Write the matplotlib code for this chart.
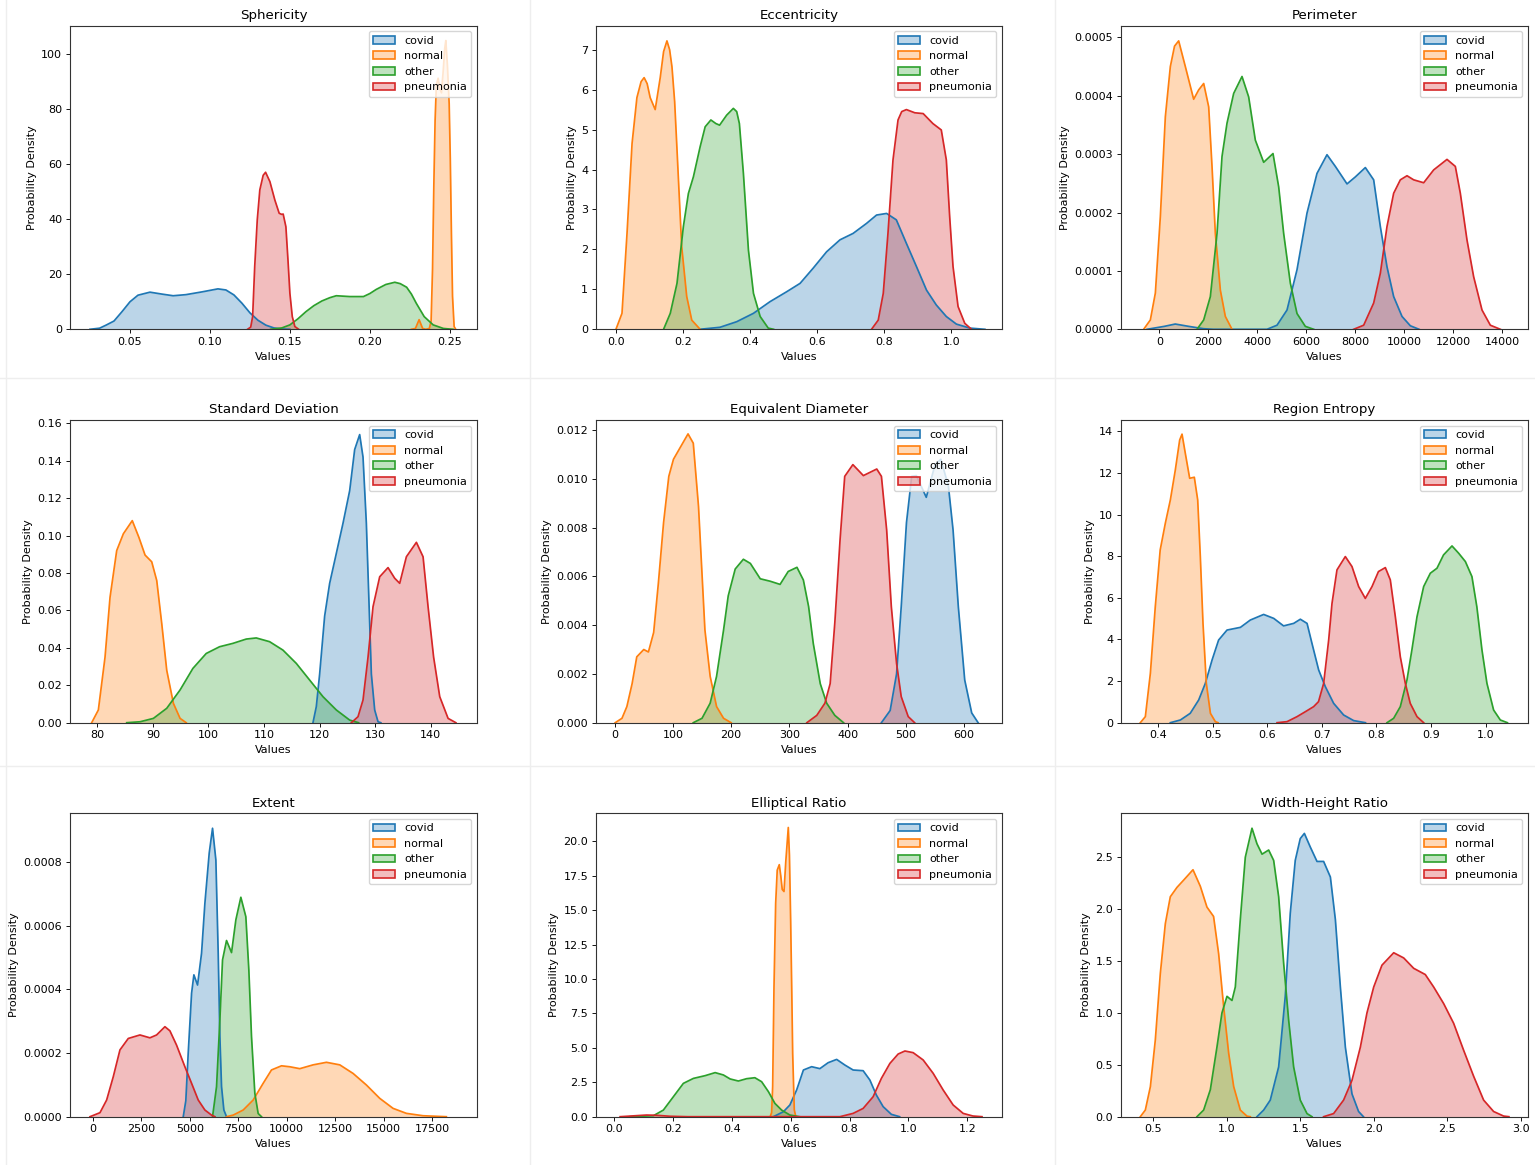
import matplotlib
matplotlib.use("Agg")
import matplotlib.pyplot as plt
from matplotlib.patches import Patch
from matplotlib.lines import Line2D
from matplotlib.ticker import FormatStrFormatter, MultipleLocator

CATEGORIES = ["covid", "normal", "other", "pneumonia"]
COLORS = ["#1f77b4", "#ff7f0e", "#2ca02c", "#d62728"]
TITLES = ["Sphericity", "Eccentricity", "Perimeter",
          "Standard Deviation", "Equivalent Diameter", "Region Entropy",
          "Extent", "Elliptical Ratio", "Width-Height Ratio"]

# ---------------- Sphericity ----------------
SPH_COVID_X = [0.025, 0.031, 0.035, 0.040, 0.045, 0.050, 0.055, 0.0625, 0.070, 0.077, 0.085, 0.095,
               0.105, 0.110, 0.115, 0.120, 0.125, 0.130, 0.135, 0.140, 0.145, 0.150]
SPH_COVID_Y = [0, 0.4, 1.5, 3.0, 6.4, 10.0, 12.4, 13.5, 12.8, 12.2, 12.6, 13.6,
               14.7, 14.3, 12.5, 9.5, 6.0, 3.3, 1.5, 0.5, 0.1, 0]
SPH_NORMAL_X = [0.2260, 0.2285, 0.2308, 0.2330, 0.2350, 0.2372, 0.2383, 0.2392, 0.2400, 0.2408, 0.2416,
                0.2427, 0.2437, 0.2448, 0.2460, 0.2468, 0.2475, 0.2485, 0.2496, 0.2503, 0.2510, 0.2517,
                0.2527, 0.2537]
SPH_NORMAL_Y = [0, 0.3, 3.5, 0.3, 0.0, 0.3, 3.0, 22, 52, 76, 89,
                91.3, 87.5, 86.0, 95, 102, 105, 96, 82, 62, 35, 12,
                1.0, 0]
SPH_OTHER_X = [0.138, 0.145, 0.150, 0.155, 0.160, 0.165, 0.170, 0.175, 0.179, 0.1875, 0.196, 0.200,
               0.204, 0.210, 0.2156, 0.219, 0.223, 0.226, 0.229, 0.234, 0.2396, 0.246, 0.252]
SPH_OTHER_Y = [0, 0.5, 1.6, 3.8, 6.4, 8.6, 10.3, 11.5, 12.2, 11.9, 11.9, 13.0,
               14.5, 16.3, 17.1, 16.6, 15.3, 12.8, 9.5, 4.6, 1.6, 0.3, 0]
SPH_PNEU_X = [0.1235, 0.1255, 0.1267, 0.128, 0.1296, 0.1312, 0.1333, 0.1348, 0.1375, 0.1406, 0.1433,
              0.1448, 0.1458, 0.1475, 0.1488, 0.150, 0.1515, 0.1531, 0.1555]
SPH_PNEU_Y = [0, 0.8, 4.6, 22.8, 39.8, 50.7, 56.0, 57.1, 53.7, 47.0, 42.2,
              41.8, 41.9, 37.3, 25.2, 13.1, 4.6, 1.0, 0]

# ---------------- Eccentricity ----------------
ECC_COVID_X = [0.25, 0.31, 0.36, 0.41, 0.459, 0.509, 0.549, 0.588, 0.628, 0.668, 0.707, 0.747,
               0.777, 0.807, 0.836, 0.866, 0.896, 0.926, 0.955, 0.985, 1.015, 1.055, 1.10]
ECC_COVID_Y = [0, 0.05, 0.19, 0.4, 0.69, 0.94, 1.15, 1.53, 1.94, 2.24, 2.4, 2.65,
               2.86, 2.9, 2.74, 2.15, 1.57, 0.98, 0.61, 0.32, 0.13, 0.03, 0]
ECC_NORMAL_X = [0.0, 0.018, 0.033, 0.048, 0.0625, 0.075, 0.084, 0.093, 0.102, 0.117, 0.132, 0.142,
                0.152, 0.160, 0.167, 0.175, 0.182, 0.196, 0.211, 0.226, 0.251]
ECC_NORMAL_Y = [0, 0.4, 2.4, 4.65, 5.8, 6.2, 6.3, 6.15, 5.8, 5.5, 6.3, 6.95,
                7.22, 7.0, 6.57, 5.7, 4.5, 2.07, 0.82, 0.23, 0]
ECC_OTHER_X = [0.142, 0.162, 0.182, 0.201, 0.216, 0.231, 0.251, 0.266, 0.283, 0.298, 0.309, 0.330,
               0.350, 0.360, 0.368, 0.380, 0.395, 0.410, 0.430, 0.454, 0.470]
ECC_OTHER_Y = [0, 0.4, 1.15, 2.57, 3.4, 3.82, 4.57, 5.07, 5.24, 5.15, 5.11, 5.36,
               5.53, 5.45, 5.15, 3.9, 1.98, 0.9, 0.32, 0.03, 0]
ECC_PNEU_X = [0.762, 0.782, 0.797, 0.811, 0.826, 0.841, 0.852, 0.866, 0.891, 0.916, 0.945, 0.970,
              0.985, 0.995, 1.005, 1.020, 1.040, 1.060]
ECC_PNEU_Y = [0, 0.23, 0.9, 2.4, 4.24, 5.24, 5.45, 5.5, 5.42, 5.4, 5.15, 4.99,
              4.24, 2.82, 1.57, 0.57, 0.15, 0]

# ---------------- Perimeter ----------------
PER_COVID_X = [-500, 200, 650, 1200, 1800, 2200, 4394, 4803, 5211, 5619, 6027, 6435, 6843, 7184,
               7660, 8000, 8408, 8748, 9020, 9292, 9564, 9905, 10245, 10600]
PER_COVID_Y = [0, 0.05e-4, 0.09e-4, 0.05e-4, 0.01e-4, 0, 0, 0.07e-4, 0.33e-4, 1.02e-4, 1.99e-4,
               2.67e-4, 2.99e-4, 2.79e-4, 2.49e-4, 2.61e-4, 2.77e-4, 2.56e-4, 1.76e-4, 1.07e-4,
               0.56e-4, 0.22e-4, 0.06e-4, 0]
PER_NORMAL_X = [-640, -367, -163, 41, 245, 449, 620, 789, 1061, 1401, 1605, 1810, 2014, 2150, 2286,
                2490, 2694, 2966]
PER_NORMAL_Y = [0, 0.16e-4, 0.62e-4, 1.93e-4, 3.64e-4, 4.5e-4, 4.85e-4, 4.94e-4, 4.5e-4, 3.94e-4,
                4.1e-4, 4.21e-4, 3.81e-4, 2.79e-4, 1.64e-4, 0.67e-4, 0.22e-4, 0]
PER_OTHER_X = [1537, 1810, 2082, 2354, 2558, 2762, 3034, 3374, 3646, 3918, 4258, 4639, 4871, 5075,
               5347, 5619, 5959, 6300]
PER_OTHER_Y = [0, 0.16e-4, 0.56e-4, 1.64e-4, 2.96e-4, 3.53e-4, 4.04e-4, 4.33e-4, 3.98e-4, 3.24e-4,
               2.86e-4, 3.01e-4, 2.44e-4, 1.64e-4, 0.79e-4, 0.27e-4, 0.05e-4, 0]
PER_PNEU_X = [7932, 8340, 8748, 9020, 9292, 9564, 9837, 10109, 10381, 10789, 11197, 11741, 12081,
              12285, 12557, 12829, 13170, 13510, 13918]
PER_PNEU_Y = [0, 0.07e-4, 0.45e-4, 0.96e-4, 1.76e-4, 2.33e-4, 2.56e-4, 2.63e-4, 2.56e-4, 2.51e-4,
              2.73e-4, 2.91e-4, 2.79e-4, 2.33e-4, 1.53e-4, 0.9e-4, 0.33e-4, 0.07e-4, 0]

# ---------------- Standard Deviation ----------------
STD_COVID_X = [118.8, 119.4, 120, 120.9, 121.8, 123, 124.2, 125.4, 126.3, 127.2, 127.8, 128.4,
               128.9, 129.3, 129.9, 130.5, 131]
STD_COVID_Y = [0, 0.0086, 0.026, 0.057, 0.0745, 0.0905, 0.1066, 0.124, 0.146, 0.154, 0.142, 0.1066,
               0.062, 0.026, 0.0068, 0.0005, 0]
STD_NORMAL_X = [79, 80.2, 81.4, 82.3, 83.5, 84.7, 86.3, 87.5, 88.6, 89.8, 90.7, 91.6, 92.5, 93.7,
                94.9, 96]
STD_NORMAL_Y = [0, 0.0068, 0.035, 0.067, 0.092, 0.101, 0.108, 0.099, 0.0896, 0.086, 0.076, 0.053,
                0.028, 0.0103, 0.0023, 0]
STD_OTHER_X = [85.3, 87.7, 90.1, 92.5, 94.9, 97.2, 99.6, 102, 104.4, 106.8, 108.6, 111, 113.4,
               115.8, 118.2, 120.6, 123, 125.4, 127]
STD_OTHER_Y = [0, 0.0005, 0.0023, 0.0077, 0.0175, 0.029, 0.037, 0.0406, 0.0424, 0.0447, 0.0453,
               0.0433, 0.0388, 0.0317, 0.0228, 0.0139, 0.0068, 0.0014, 0]
STD_PNEU_X = [125.7, 126.9, 127.8, 128.7, 129.6, 130.8, 132.3, 133.5, 134.4, 135.6, 137.4, 138.6,
              139.5, 140.5, 141.6, 143.1, 144.5]
STD_PNEU_Y = [0, 0.0032, 0.0121, 0.035, 0.062, 0.078, 0.0829, 0.0772, 0.0745, 0.0887, 0.0964,
              0.0887, 0.062, 0.035, 0.0139, 0.0023, 0]

# ---------------- Equivalent Diameter ----------------
EQD_COVID_X = [458, 473, 484, 492, 501, 510, 518, 535, 550, 560, 573, 581, 590, 601, 613, 624]
EQD_COVID_Y = [0, 0.0005, 0.002, 0.00476, 0.0082, 0.0101, 0.01013, 0.00924, 0.01057, 0.0108,
               0.0097, 0.0079, 0.00476, 0.00175, 0.0004, 0]
EQD_NORMAL_X = [1, 12.6, 21, 30, 38, 50, 58, 67, 75, 84, 93, 101, 113, 126, 135, 144, 150, 155,
                164, 175, 187, 200]
EQD_NORMAL_Y = [0, 0.00018, 0.00066, 0.0016, 0.0027, 0.003, 0.0029, 0.0037, 0.0057, 0.0082,
                0.0101, 0.0108, 0.0113, 0.01184, 0.01146, 0.00886, 0.0061, 0.0038, 0.0019,
                0.00066, 0.00018, 0]
EQD_OTHER_X = [135, 150, 164, 175, 187, 195, 207, 221, 233, 250, 267, 284, 298, 313, 324, 333,
               341, 353, 364, 378, 393]
EQD_OTHER_Y = [0, 0.00018, 0.0008, 0.0019, 0.0038, 0.0052, 0.0063, 0.0067, 0.00653, 0.0059,
               0.0058, 0.00567, 0.0062, 0.00637, 0.00585, 0.00476, 0.00325, 0.0016, 0.0008,
               0.0003, 0]
EQD_PNEU_X = [330, 347, 361, 370, 378, 387, 395, 409, 427, 450, 458, 467, 475, 484, 492, 504, 515]
EQD_PNEU_Y = [0, 0.0003, 0.0008, 0.0016, 0.0041, 0.0075, 0.0101, 0.01058, 0.01013, 0.0104,
              0.0101, 0.0079, 0.00476, 0.00243, 0.00107, 0.00025, 0]

# ---------------- Region Entropy ----------------
ENT_COVID_X = [0.4226, 0.441, 0.459, 0.4745, 0.4867, 0.499, 0.511, 0.5264, 0.551, 0.569, 0.5935,
               0.612, 0.630, 0.6485, 0.6607, 0.673, 0.682, 0.6943, 0.7065, 0.7217, 0.740, 0.7584,
               0.78]
ENT_COVID_Y = [0, 0.13, 0.45, 1.09, 1.89, 3.01, 3.97, 4.45, 4.58, 4.93, 5.2,
               5.01, 4.65, 4.77, 4.97, 4.77, 3.81, 2.53, 1.73, 0.93, 0.37, 0.1,
               0]
ENT_NORMAL_X = [0.3676, 0.3768, 0.386, 0.395, 0.404, 0.4134, 0.4226, 0.4317, 0.4397, 0.444, 0.450,
                0.458, 0.4665, 0.4727, 0.4775, 0.4824, 0.4885, 0.496, 0.505, 0.51]
ENT_NORMAL_Y = [0, 0.29, 2.37, 5.57, 8.3, 9.58, 10.7, 12.14, 13.58, 13.86, 12.94,
                11.74, 11.79, 10.7, 7.98, 4.77, 1.89, 0.45, 0.05, 0]
ENT_OTHER_X = [0.8194, 0.8316, 0.8438, 0.856, 0.865, 0.8744, 0.8866, 0.8988, 0.911, 0.923, 0.9385,
               0.9507, 0.963, 0.975, 0.984, 0.9934, 1.0025, 1.0147, 1.027, 1.04]
ENT_OTHER_Y = [0, 0.21, 0.77, 2.05, 3.49, 5.09, 6.54, 7.18, 7.42, 8.06, 8.49,
               8.14, 7.74, 7.02, 5.57, 3.49, 1.89, 0.61, 0.13, 0]
ENT_PNEU_X = [0.618, 0.6363, 0.6546, 0.67, 0.685, 0.694, 0.7034, 0.7126, 0.7187, 0.7278, 0.7431,
              0.7553, 0.7675, 0.7797, 0.792, 0.8038, 0.8164, 0.8255, 0.8347, 0.8438, 0.853, 0.862,
              0.8744, 0.8866]
ENT_PNEU_Y = [0, 0.05, 0.29, 0.53, 0.77, 1.01, 1.89, 3.97, 5.73, 7.34, 7.98,
              7.5, 6.54, 5.97, 6.54, 7.26, 7.45, 6.86, 5.09, 3.17, 1.89, 0.93,
              0.29, 0]

# ---------------- Extent ----------------
EXT_COVID_X = [4668, 4800, 4924, 5097, 5216, 5405, 5611, 5783, 6006, 6177, 6349, 6469, 6555, 6641,
               6761, 6898]
EXT_COVID_Y = [0, 0.00005, 0.0002, 0.000388, 0.000446, 0.000414, 0.000514, 0.000671, 0.000829,
               0.000907, 0.000807, 0.000514, 0.000252, 0.0000944, 0.000021, 0]
EXT_NORMAL_X = [6898, 7241, 7756, 8271, 8786, 9215, 9730, 10159, 10673, 11360, 12046, 12733, 13419,
                14106, 14792, 15478, 16165, 17023, 18224]
EXT_NORMAL_Y = [0, 0.000005, 0.000021, 0.0000524, 0.000105, 0.000147, 0.00016, 0.000157, 0.000151,
                0.000163, 0.000171, 0.000163, 0.000136, 0.0000996, 0.0000577, 0.0000262, 0.0000105,
                0.000003, 0]
EXT_OTHER_X = [6177, 6383, 6555, 6692, 6898, 7156, 7379, 7636, 7893, 8048, 8185, 8357, 8528, 8700]
EXT_OTHER_Y = [0, 0.0000944, 0.000304, 0.000493, 0.000554, 0.000516, 0.000619, 0.00069, 0.000629,
               0.000461, 0.000252, 0.0000735, 0.00001, 0]
EXT_PNEU_X = [-137, 378, 721, 1064, 1407, 1836, 2437, 2951, 3295, 3724, 3981, 4324, 4753, 5097,
              5440, 5783, 6126, 6300]
EXT_PNEU_Y = [0, 0.0000126, 0.0000524, 0.000126, 0.00021, 0.000246, 0.000257, 0.000248, 0.000257,
              0.000283, 0.00027, 0.000225, 0.000157, 0.000105, 0.0000524, 0.000021, 0.000005, 0]

# ---------------- Elliptical Ratio ----------------
ELL_COVID_X = [0.541, 0.575, 0.597, 0.62, 0.643, 0.671, 0.699, 0.727, 0.756, 0.784, 0.812, 0.846,
               0.869, 0.891, 0.914, 0.942, 0.97]
ELL_COVID_Y = [0, 0.36, 0.85, 1.94, 3.39, 3.63, 3.49, 3.92, 4.16, 3.75, 3.39, 3.34,
               2.66, 1.57, 0.73, 0.17, 0]
ELL_NORMAL_X = [0.530, 0.535, 0.5385, 0.543, 0.5487, 0.554, 0.561, 0.566, 0.571, 0.577, 0.583,
                0.5916, 0.5955, 0.5996, 0.6035, 0.6065, 0.612, 0.617]
ELL_NORMAL_Y = [0, 0.3, 2.2, 9.4, 15.5, 17.9, 18.3, 17.5, 16.5, 16.35, 18.5,
                21.0, 19.0, 14.3, 9.0, 4.6, 0.5, 0]
ELL_OTHER_X = [0.054, 0.133, 0.167, 0.201, 0.235, 0.269, 0.309, 0.343, 0.371, 0.394, 0.422, 0.45,
               0.478, 0.501, 0.524, 0.546, 0.569, 0.597, 0.63]
ELL_OTHER_Y = [0, 0.07, 0.48, 1.45, 2.42, 2.78, 2.98, 3.2, 3.03, 2.74, 2.59, 2.76,
               2.83, 2.54, 1.82, 0.97, 0.48, 0.12, 0]
ELL_PNEU_X = [0.02, 0.11, 0.145, 0.19, 0.25, 0.767, 0.812, 0.846, 0.88, 0.908, 0.937, 0.965, 0.988,
              1.016, 1.05, 1.084, 1.118, 1.152, 1.186, 1.219, 1.25]
ELL_PNEU_Y = [0, 0.12, 0.1, 0.03, 0, 0, 0.24, 0.6, 1.45, 2.78, 3.87, 4.55, 4.77,
              4.65, 4.12, 3.15, 1.94, 0.85, 0.24, 0.05, 0]

# ---------------- Width-Height Ratio ----------------
WHR_COVID_X = [1.2055, 1.251, 1.296, 1.353, 1.398, 1.432, 1.466, 1.5, 1.528, 1.568, 1.614, 1.659,
               1.705, 1.739, 1.773, 1.807, 1.852, 1.897, 1.93]
WHR_COVID_Y = [0, 0.064, 0.16, 0.48, 1.16, 1.96, 2.47, 2.68, 2.73, 2.6, 2.46, 2.46,
               2.31, 1.9, 1.25, 0.67, 0.22, 0.05, 0]
WHR_NORMAL_X = [0.4115, 0.4456, 0.48, 0.5136, 0.5476, 0.5817, 0.6157, 0.661, 0.7064, 0.77, 0.82,
                0.865, 0.91, 0.9446, 0.9787, 1.013, 1.047, 1.092, 1.1375, 1.16]
WHR_NORMAL_Y = [0, 0.064, 0.29, 0.74, 1.38, 1.86, 2.12, 2.21, 2.28, 2.38, 2.22,
                2.02, 1.93, 1.57, 1.06, 0.61, 0.29, 0.064, 0.005, 0]
WHR_OTHER_X = [0.797, 0.8425, 0.888, 0.933, 0.967, 1.0014, 1.0354, 1.058, 1.092, 1.126, 1.1715,
               1.2055, 1.24, 1.285, 1.319, 1.353, 1.387, 1.421, 1.455, 1.5, 1.546, 1.58]
WHR_OTHER_Y = [0, 0.064, 0.26, 0.67, 1.0, 1.16, 1.12, 1.25, 1.9, 2.5, 2.78,
               2.63, 2.53, 2.57, 2.47, 2.12, 1.48, 0.93, 0.48, 0.16, 0.03, 0]
WHR_PNEU_X = [1.659, 1.727, 1.795, 1.852, 1.909, 1.954, 2.0, 2.056, 2.136, 2.204, 2.272, 2.351,
              2.408, 2.476, 2.544, 2.612, 2.68, 2.748, 2.816, 2.884, 2.92]
WHR_PNEU_Y = [0, 0.03, 0.16, 0.35, 0.67, 1.0, 1.25, 1.46, 1.58, 1.53, 1.43, 1.37,
              1.25, 1.09, 0.9, 0.64, 0.39, 0.16, 0.05, 0.006, 0]

PANEL_CURVES = [
    [(SPH_COVID_X, SPH_COVID_Y), (SPH_NORMAL_X, SPH_NORMAL_Y), (SPH_OTHER_X, SPH_OTHER_Y), (SPH_PNEU_X, SPH_PNEU_Y)],
    [(ECC_COVID_X, ECC_COVID_Y), (ECC_NORMAL_X, ECC_NORMAL_Y), (ECC_OTHER_X, ECC_OTHER_Y), (ECC_PNEU_X, ECC_PNEU_Y)],
    [(PER_COVID_X, PER_COVID_Y), (PER_NORMAL_X, PER_NORMAL_Y), (PER_OTHER_X, PER_OTHER_Y), (PER_PNEU_X, PER_PNEU_Y)],
    [(STD_COVID_X, STD_COVID_Y), (STD_NORMAL_X, STD_NORMAL_Y), (STD_OTHER_X, STD_OTHER_Y), (STD_PNEU_X, STD_PNEU_Y)],
    [(EQD_COVID_X, EQD_COVID_Y), (EQD_NORMAL_X, EQD_NORMAL_Y), (EQD_OTHER_X, EQD_OTHER_Y), (EQD_PNEU_X, EQD_PNEU_Y)],
    [(ENT_COVID_X, ENT_COVID_Y), (ENT_NORMAL_X, ENT_NORMAL_Y), (ENT_OTHER_X, ENT_OTHER_Y), (ENT_PNEU_X, ENT_PNEU_Y)],
    [(EXT_COVID_X, EXT_COVID_Y), (EXT_NORMAL_X, EXT_NORMAL_Y), (EXT_OTHER_X, EXT_OTHER_Y), (EXT_PNEU_X, EXT_PNEU_Y)],
    [(ELL_COVID_X, ELL_COVID_Y), (ELL_NORMAL_X, ELL_NORMAL_Y), (ELL_OTHER_X, ELL_OTHER_Y), (ELL_PNEU_X, ELL_PNEU_Y)],
    [(WHR_COVID_X, WHR_COVID_Y), (WHR_NORMAL_X, WHR_NORMAL_Y), (WHR_OTHER_X, WHR_OTHER_Y), (WHR_PNEU_X, WHR_PNEU_Y)],
]

# axis settings: xlim, ylim, x tick step, y tick step, x fmt, y fmt
AXIS_CFG = [
    ((0.0125, 0.267), (0, 110.4), 0.05, 20, "%.2f", "%d"),
    ((-0.0595, 1.151), (0, 7.6), 0.2, 1, "%.1f", "%d"),
    ((-1565, 15047), (0, 0.00052), 2000, 0.0001, "%d", "%.4f"),
    ((75.1, 148.3), (0, 0.1618), 10, 0.02, "%d", "%.2f"),
    ((-32, 665), (0, 0.01241), 100, 0.002, "%d", "%.3f"),
    ((0.3322, 1.0777), (0, 14.54), 0.1, 2, "%.1f", "%d"),
    ((-1167, 19803), (0, 0.000954), 2500, 0.0002, "%d", "%.4f"),
    ((-0.062, 1.318), (0, 22.03), 0.2, 2.5, "%.1f", "%.1f"),
    ((0.28, 3.05), (0, 2.924), 0.5, 0.5, "%.1f", "%.1f"),
]

W, H = 1535, 1165
COL_LR = [(70, 477), (596, 1002), (1121, 1528)]
ROW_TB = [(25.7, 329.3), (420, 722.7), (813.3, 1116.7)]

fig = plt.figure(figsize=(W / 100, H / 100), dpi=100)

# faint panel separators
for xs in [6, 530, 1055]:
    fig.add_artist(Line2D([xs / W, xs / W], [0, 1], color="#eeeeee", lw=1))
for ys in [378, 766]:
    fig.add_artist(Line2D([0, 1], [1 - ys / H, 1 - ys / H], color="#eeeeee", lw=1))

for i, title in enumerate(TITLES):
    r, c = divmod(i, 3)
    L, R = COL_LR[c]
    T, B = ROW_TB[r]
    ax = fig.add_axes([L / W, 1 - B / H, (R - L) / W, (B - T) / H])
    for (xs, ys), col in zip(PANEL_CURVES[i], COLORS):
        ax.fill_between(xs, ys, 0, color=col, alpha=0.3, lw=0)
        ax.plot(xs, ys, color=col, lw=1.25)
    xlim, ylim, xstep, ystep, xfmt, yfmt = AXIS_CFG[i]
    ax.set_xlim(*xlim)
    ax.set_ylim(*ylim)
    ax.xaxis.set_major_locator(MultipleLocator(xstep))
    ax.yaxis.set_major_locator(MultipleLocator(ystep))
    ax.xaxis.set_major_formatter(FormatStrFormatter(xfmt))
    ax.yaxis.set_major_formatter(FormatStrFormatter(yfmt))
    ax.tick_params(labelsize=8, length=2.8, width=0.64, pad=2.8)
    for sp in ax.spines.values():
        sp.set_linewidth(0.8)
        sp.set_color("#333333")
    ax.set_title(title, fontsize=9.6, pad=4.8)
    ax.set_xlabel("Values", fontsize=8, labelpad=3.2)
    ax.set_ylabel("Probability Density", fontsize=8, labelpad=3.2)
    handles = [Patch(facecolor=matplotlib.colors.to_rgba(col, 0.3), edgecolor=col, lw=1.2,
                     label=cat) for cat, col in zip(CATEGORIES, COLORS)]
    ax.legend(handles=handles, loc="upper right", fontsize=8, framealpha=0.8)

fig.savefig("out.png", dpi=100)
